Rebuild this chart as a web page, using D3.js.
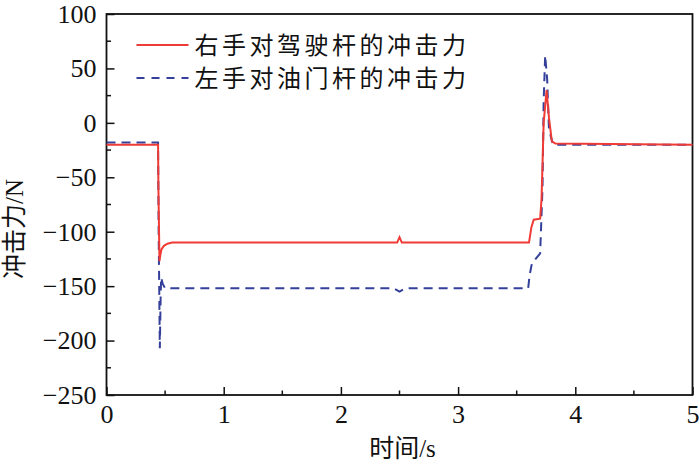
<!DOCTYPE html>
<html>
<head>
<meta charset="utf-8">
<script src="https://cdn.jsdelivr.net/npm/d3@7/dist/d3.min.js"></script>
<style>
  body { margin: 0; background: #fff; }
  text { font-family: "Liberation Serif", "Noto Sans CJK SC", serif; fill: #111; }
</style>
</head>
<body>
<script>
// time (s) and impact force (N)
var rightTime  = [0, 0.44, 0.443, 0.452, 0.46, 0.47, 0.49, 0.52, 0.56, 0.6, 2.48, 2.5, 2.52, 3.605, 3.625, 3.645, 3.70, 3.712, 3.73, 3.755, 3.775, 3.80, 3.83, 5];
var rightForce = [-20, -20, -60, -127, -121, -116, -113, -111, -110, -110, -110, -105, -110, -110, -96, -89, -88, -70, 0, 30, 5, -17, -19, -20];

var leftTime  = [0, 0.44, 0.445, 0.455, 0.462, 0.466, 0.48, 0.5, 2.45, 2.5, 2.55, 3.598, 3.61, 3.63, 3.70, 3.72, 3.73, 3.743, 3.76, 3.775, 3.79, 3.81, 5];
var leftForce = [-18, -18, -100, -207, -160, -142, -148, -152, -152, -155, -152, -152, -140, -129, -120, -60, 20, 62, 40, -5, -12, -20, -20];

var seriesNames = ["右手对驾驶杆的冲击力", "左手对油门杆的冲击力"];
var xTicks = [0, 1, 2, 3, 4, 5];
var yTicks = [100, 50, 0, -50, -100, -150, -200, -250];

var margin = {top: 14, right: 7.5, bottom: 76, left: 106.5},
	fullWidth = 700, fullHeight = 471,
	width = fullWidth - margin.left - margin.right,
	height = fullHeight - margin.top - margin.bottom;

var xScale = d3.scaleLinear().domain([0, 5]).range([0, width]);
var yScale = d3.scaleLinear().domain([-250, 100]).range([height, 0]);

var svg = d3.select("body").append("svg")
	.attr("width", fullWidth)
	.attr("height", fullHeight)
	.append("g")
		.attr("transform", "translate(" + margin.left + "," + margin.top + ")");

// inward ticks on left and bottom
var xAxis = d3.axisBottom(xScale).tickValues(xTicks).tickSizeInner(-8).tickSizeOuter(0).tickPadding(12)
	.tickFormat(d3.format("d"));
var yAxis = d3.axisLeft(yScale).tickValues(yTicks).tickSizeInner(-8).tickSizeOuter(0).tickPadding(10)
	.tickFormat(function(d) { return d < 0 ? "\u2212" + Math.abs(d) : d; });

var gx = svg.append("g")
	.attr("transform", "translate(0," + height + ")")
	.call(xAxis);
var gy = svg.append("g").call(yAxis);

[gx, gy].forEach(function(g) {
	g.select(".domain").remove();
	g.selectAll("line").attr("stroke", "#111").attr("stroke-width", 1.5);
	g.selectAll("text").style("font-size", "26px").style("font-family", "Liberation Serif").attr("fill", "#111");
});
gx.selectAll("text").attr("dy", "0.62em");

// minor ticks
svg.append("g").selectAll("line")
	.data(d3.range(0.5, 5, 1))
	.enter().append("line")
		.attr("x1", function(d) { return xScale(d); })
		.attr("x2", function(d) { return xScale(d); })
		.attr("y1", height).attr("y2", height - 4.5)
		.attr("stroke", "#111").attr("stroke-width", 1.5);
svg.append("g").selectAll("line")
	.data(d3.range(-225, 100, 50))
	.enter().append("line")
		.attr("y1", function(d) { return yScale(d); })
		.attr("y2", function(d) { return yScale(d); })
		.attr("x1", 0).attr("x2", 4.5)
		.attr("stroke", "#111").attr("stroke-width", 1.5);

// frame
svg.append("rect")
	.attr("width", width).attr("height", height)
	.attr("fill", "none").attr("stroke", "#111").attr("stroke-width", 1.8);

var line = d3.line()
	.x(function(d) { return xScale(d[0]); })
	.y(function(d) { return yScale(d[1]); });

var rightData = d3.zip(rightTime, rightForce);
var leftData = d3.zip(leftTime, leftForce);

svg.append("path")
	.datum(leftData)
	.attr("d", line)
	.attr("fill", "none")
	.attr("stroke", "#34409a")
	.attr("stroke-width", 2)
	.attr("stroke-dasharray", "9,6");

svg.append("path")
	.datum(rightData)
	.attr("d", line)
	.attr("fill", "none")
	.attr("stroke", "#ee3b36")
	.attr("stroke-width", 2);

// legend
var legend = svg.selectAll(".legend")
	.data(seriesNames)
	.enter().append("g")
		.attr("class", "legend")
		.attr("transform", function(d, i) { return "translate(30," + (31 + i * 33) + ")"; });

legend.append("line")
	.attr("x1", 0).attr("x2", 52)
	.attr("stroke", function(d, i) { return i ? "#34409a" : "#ee3b36"; })
	.attr("stroke-width", 2)
	.attr("stroke-dasharray", function(d, i) { return i ? "8,7" : null; });

legend.append("text")
	.attr("x", 58)
	.attr("dy", "0.36em")
	.style("font-size", "24px")
	.style("letter-spacing", "3.5px")
	.text(function(d) { return d; });

// axis titles
svg.append("text")
	.attr("x", width / 2 + 3)
	.attr("y", height + 62)
	.style("text-anchor", "middle")
	.style("font-size", "25px")
	.text("时间/s");

svg.append("text")
	.attr("transform", "rotate(-90)")
	.attr("x", -215)
	.attr("y", -84)
	.style("text-anchor", "middle")
	.style("font-size", "25px")
	.text("冲击力/N");
</script>
</body>
</html>
